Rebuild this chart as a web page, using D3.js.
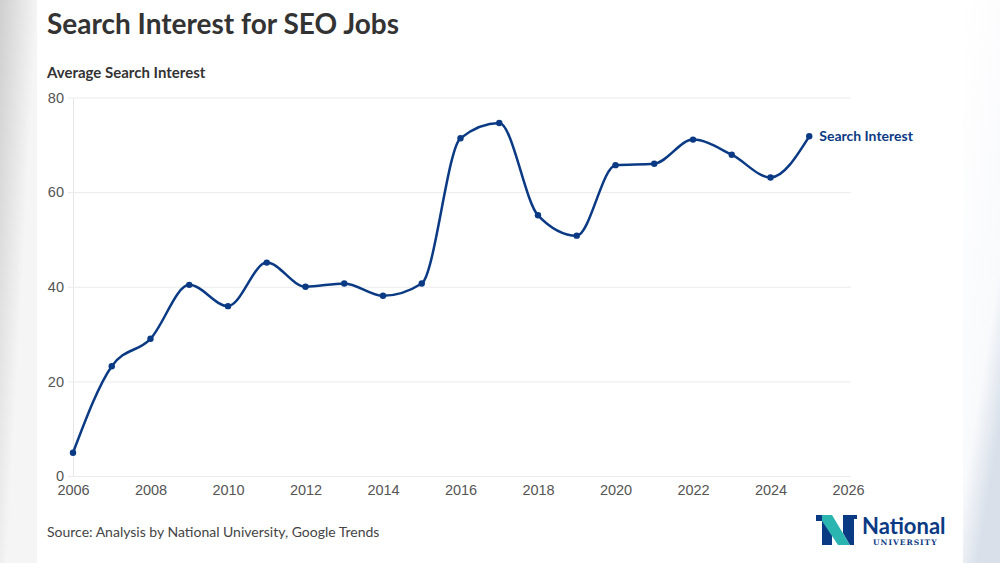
<!DOCTYPE html>
<html>
<head>
<meta charset="utf-8">
<script src="https://cdn.jsdelivr.net/npm/d3@7"></script>
<style>
  body { margin: 0; background: #fff; }
  svg { display: block; font-family: Lato, "Noto Sans", sans-serif; }
  .tick text { fill: #555; font-size: 14.5px; }
</style>
</head>
<body>
<svg width="1000" height="563"></svg>
<script>
let years = d3.range(2006, 2026)
let interest = [4.9, 23.2, 29.0, 40.4, 35.9, 45.1, 40.0, 40.7, 38.1, 40.7,
                71.4, 74.6, 55.1, 50.8, 65.7, 66.0, 71.1, 67.9, 63.1, 71.8]
let yTicks = [0, 20, 40, 60, 80]
let xTicks = d3.range(2006, 2027, 2)

let navy = '#0b3a84'
let svg = d3.select('svg')

// soft backdrop either side of the card
let defs = svg.append('defs')
let lg = defs.append('linearGradient').attr('id', 'leftBg')
  .attr('x1', 0).attr('y1', 0).attr('x2', 0.6).attr('y2', 0.5)
lg.append('stop').attr('offset', '0%').attr('stop-color', '#cfcfcf')
lg.append('stop').attr('offset', '100%').attr('stop-color', '#f5f5f5')
let rg = defs.append('linearGradient').attr('id', 'rightBg')
  .attr('x1', 0).attr('y1', 0).attr('x2', 0.4).attr('y2', 1)
rg.append('stop').attr('offset', '0%').attr('stop-color', '#ffffff')
rg.append('stop').attr('offset', '75%').attr('stop-color', '#f9fafc')
rg.append('stop').attr('offset', '100%').attr('stop-color', '#d9e0ea')

svg.append('rect').attr('width', 37).attr('height', 563).attr('fill', 'url(#leftBg)')
svg.append('rect').attr('x', 963).attr('width', 37).attr('height', 563).attr('fill', 'url(#rightBg)')
svg.append('rect').attr('x', 37).attr('width', 926).attr('height', 563).attr('fill', '#fff')

let xScale = d3.scaleLinear().domain([2006, 2026]).range([73, 848])
let yScale = d3.scaleLinear().domain([0, 80]).range([476, 97.5])

// gridlines + y labels
let yAxis = d3.axisLeft(yScale)
              .tickValues(yTicks)
              .tickSize(-(851 - 73))
              .tickSizeOuter(0)
              .tickPadding(9)

let gy = svg.append('g')
  .attr('transform', 'translate(73, 0)')
  .call(yAxis)
gy.select('.domain').attr('stroke', '#e6e6e6')
gy.selectAll('.tick line').attr('stroke', '#ebebeb').attr('x1', -5)

let xAxis = d3.axisBottom(xScale)
              .tickValues(xTicks)
              .tickFormat(d3.format('d'))
              .tickSize(0)
              .tickPadding(9)

let gx = svg.append('g')
  .attr('transform', 'translate(0, 476)')
  .call(xAxis)
gx.select('.domain').remove()
gx.selectAll('.tick text').attr('dy', '0.71em')

let line = d3.line()
  .x((d, i) => xScale(years[i]))
  .y(d => yScale(d))
  .curve(d3.curveMonotoneX)

svg.append('path')
  .datum(interest)
  .attr('d', line)
  .attr('fill', 'none')
  .attr('stroke', navy)
  .attr('stroke-width', 2.5)

svg.append('g')
  .selectAll('circle')
  .data(interest)
  .enter()
  .append('circle')
    .attr('cx', (d, i) => xScale(years[i]))
    .attr('cy', d => yScale(d))
    .attr('r', 3.2)
    .attr('fill', navy)

let last = interest.length - 1
svg.append('text')
  .attr('x', xScale(years[last]) + 10)
  .attr('y', yScale(interest[last]))
  .attr('dy', '0.35em')
  .attr('fill', navy)
  .style('font-size', '14px')
  .style('font-weight', 700)
  .text('Search Interest')

svg.append('text')
  .attr('x', 47)
  .attr('y', 34)
  .attr('fill', '#333')
  .style('font-size', '28px')
  .style('font-weight', 700)
  .text('Search Interest for SEO Jobs')

svg.append('text')
  .attr('x', 47)
  .attr('y', 78)
  .attr('fill', '#333')
  .style('font-size', '15px')
  .style('font-weight', 700)
  .text('Average Search Interest')

svg.append('text')
  .attr('x', 47)
  .attr('y', 537)
  .attr('fill', '#444')
  .style('font-size', '14px')
  .text('Source: Analysis by National University, Google Trends')

// logo
let logo = svg.append('g').attr('transform', 'translate(816, 515)')
logo.append('path')
  .attr('d', 'M0,0 H16 V30 H6 V6 H0 Z')
  .attr('fill', '#0b3a84')
logo.append('path')
  .attr('d', 'M16,0 L34,30 H22 L6,6 V0 Z')
  .attr('fill', '#2bb5b0')
logo.append('path')
  .attr('d', 'M27,0 H41 V4 H38 V30 H34 L27,18 Z')
  .attr('fill', '#0b3a84')
logo.append('text')
  .attr('x', 46)
  .attr('y', 19)
  .attr('fill', '#0b3a84')
  .style('font-size', '22px')
  .style('font-weight', 700)
  .text('National')
logo.append('text')
  .attr('x', 57)
  .attr('y', 30)
  .attr('fill', '#0b3a84')
  .style('font-family', '"DejaVu Serif", "Liberation Serif", serif')
  .style('font-size', '7.5px')
  .style('font-weight', 700)
  .style('letter-spacing', '1px')
  .text('UNIVERSITY')
</script>
</body>
</html>
